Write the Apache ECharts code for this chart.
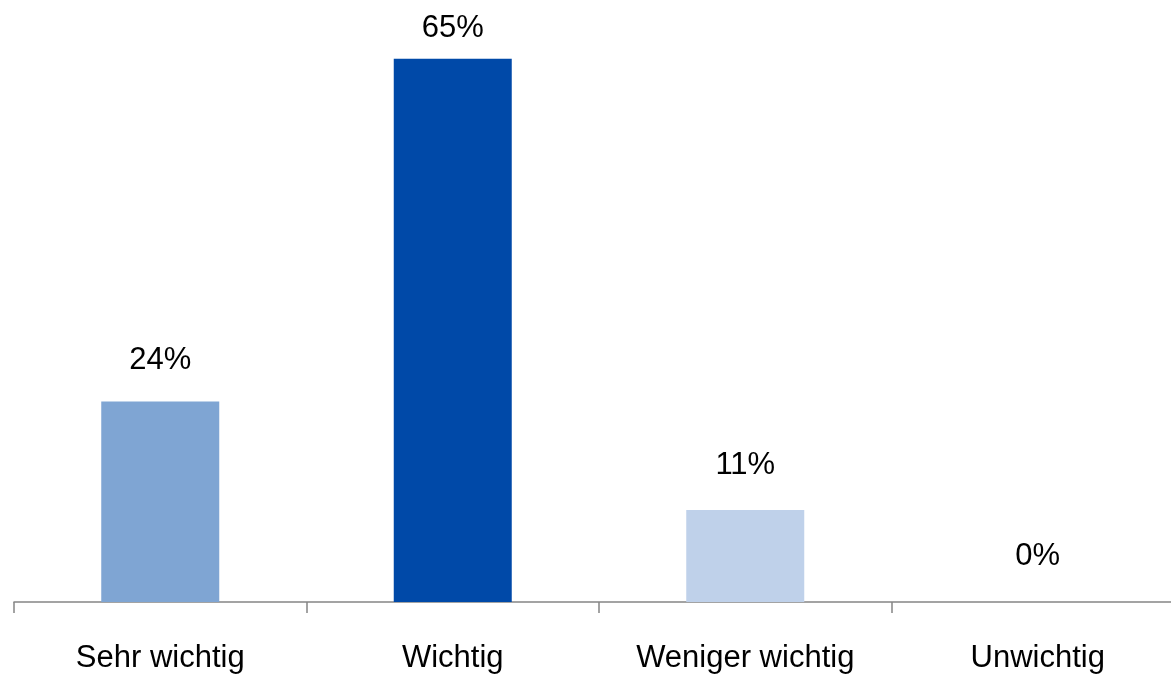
<!DOCTYPE html>
<html><head><meta charset="utf-8">
<script src="https://cdn.jsdelivr.net/npm/echarts@6/dist/echarts.min.js"></script>
<style>html,body{margin:0;padding:0;background:#fff;overflow:hidden;width:1171px;height:678px}#c{width:1200px;height:678px}</style>
</head><body><div id="c"></div>
<script>
const categories = ['Sehr wichtig', 'Wichtig', 'Weniger wichtig', 'Unwichtig'];
const values = [24, 65, 11, 0];
const barColors = ['#7FA5D3', '#0049A8', '#BFD1EA', '#BFD1EA'];
const labelGaps = [25, 15, 29, 30];
const FONT = '"Liberation Sans Narrow", "Arial Narrow", "Liberation Sans", Arial, sans-serif';

const chart = echarts.init(document.getElementById('c'), null, {renderer: 'canvas'});
chart.setOption({
  animation: false,
  grid: {left: 14, top: 17, width: 1170, height: 585, containLabel: false},
  xAxis: {
    type: 'category', data: categories,
    axisLine: {lineStyle: {color: '#858585', width: 1.5}},
    axisTick: {show: true, length: 11, alignWithLabel: false, lineStyle: {color: '#858585', width: 1.5}},
    axisLabel: {color: '#000', fontFamily: FONT, fontSize: 31, margin: 41, interval: 0}
  },
  yAxis: {type: 'value', min: 0, max: 70, show: false, splitLine: {show: false}},
  series: [{
    type: 'bar', barWidth: 118,
    data: values.map((v, i) => ({
      value: v,
      itemStyle: {color: barColors[i]},
      label: {show: true, position: 'top', distance: labelGaps[i], formatter: '{c}%',
              color: '#000', fontFamily: FONT, fontSize: 31}
    }))
  }]
});
</script></body></html>
